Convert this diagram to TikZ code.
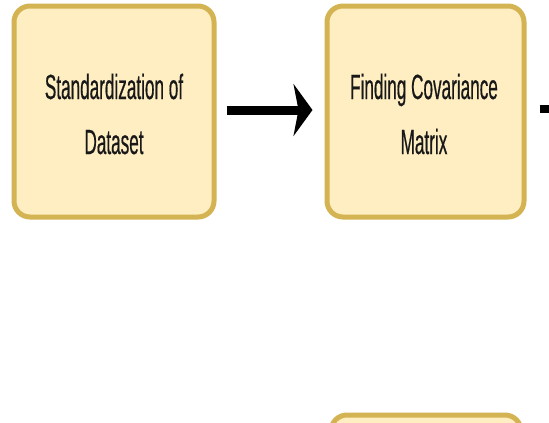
\documentclass[tikz,border=0pt]{standalone}
\usepackage{fontspec}
\setmainfont[FakeStretch=0.49, FakeBold=0.4]{Liberation Sans}
\usetikzlibrary{arrows.meta}
\definecolor{boxfill}{HTML}{FEEEC2}
\definecolor{boxline}{HTML}{D4B352}
\definecolor{inkc}{HTML}{181818}
\tikzset{
  x=1pt, y=1pt,
  stepbox/.style={draw=boxline, fill=boxfill, line width=5pt, rounded corners=16pt, inner sep=0pt},
  steptext/.style={text=inkc, align=center, font=\fontsize{35}{55}\selectfont, inner sep=0pt},
  flow/.style={draw=black, line width=9pt, -{Stealth[length=19pt, width=52pt, inset=5pt]}}
}
\begin{document}
\begin{tikzpicture}
\useasboundingbox (0,0) rectangle (549,-423);
\fill[white] (0,0) rectangle (549,-423);
\node[stepbox, minimum width=200pt, minimum height=211pt] (b1) at (114,-111.5) {};
\node[stepbox, minimum width=197pt, minimum height=211pt] (b2) at (425.5,-111.5) {};
\node[stepbox, minimum width=190pt, minimum height=211pt] (b3) at (426,-520.5) {};
\node[steptext] (t1) at (114,-114) {Standardization of\\Dataset};
\node[steptext] (t2) at (424,-114) {Finding Covariance\\Matrix};
\coordinate (out) at (575,-109);
\draw[flow, shorten <=10pt, shorten >=12pt] (b1.east |- 0,-110) -- (b2.west |- 0,-110);
\draw[draw=black, line width=8pt, shorten <=13pt] (b2.east |- 0,-109) -- (out);
\end{tikzpicture}
\end{document}
